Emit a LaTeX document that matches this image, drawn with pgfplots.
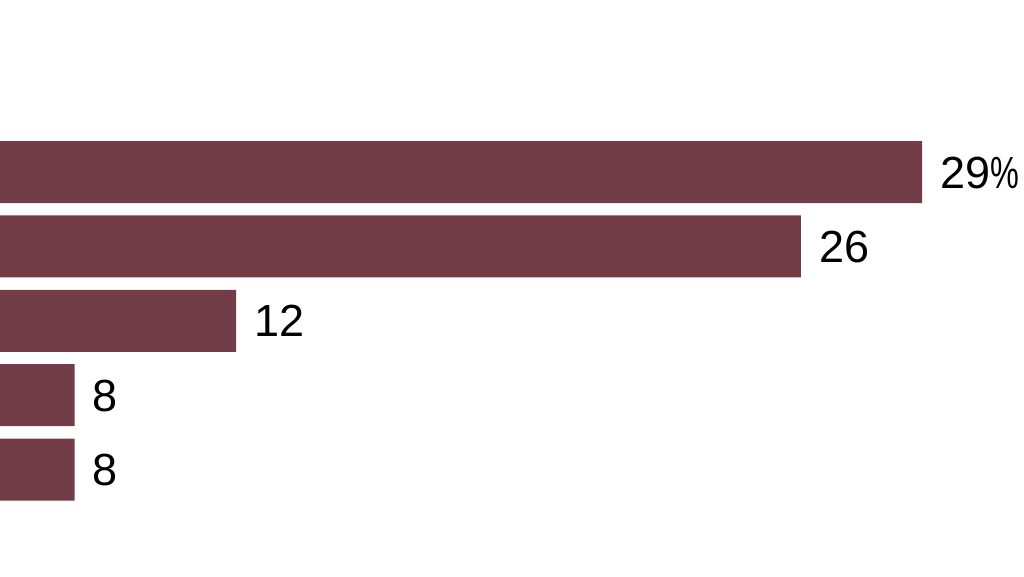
\documentclass[border=0pt]{standalone}
\usepackage{graphicx}
\usepackage{pgfplots}
\pgfplotsset{compat=1.18}
\usepackage{fontspec}
\setmainfont{Liberation Sans}
\definecolor{barfill}{RGB}{115,61,71}
% narrower percent sign, as in the reference
\newcommand{\pct}{\scalebox{0.72}[1]{\%}}

\begin{document}
\begin{tikzpicture}
\begin{axis}[
    scale only axis,
    width=1024pt, height=577pt,
    xbar,
    bar width=62pt,
    hide axis,
    y dir=reverse,
    xmin=6.149, xmax=31.527,
    ymin=-2.312, ymax=5.444,
    enlargelimits=false,
    clip=false,
    point meta=explicit symbolic,
    nodes near coords,
    nodes near coords style={
        font=\fontsize{45}{50}\selectfont,
        text=black, anchor=west, inner xsep=0pt, xshift=18pt,
        text height=32pt, text depth=0pt
    },
]
\addplot[fill=barfill, draw=none] coordinates {
    (29,0) [29\pct]
    (26,1) [26]
    (12,2) [12]
    (8,3)  [8]
    (8,4)  [8]
};
\end{axis}
\pgfresetboundingbox
\useasboundingbox (current axis.south west) rectangle (current axis.north east);
\end{tikzpicture}
\end{document}
